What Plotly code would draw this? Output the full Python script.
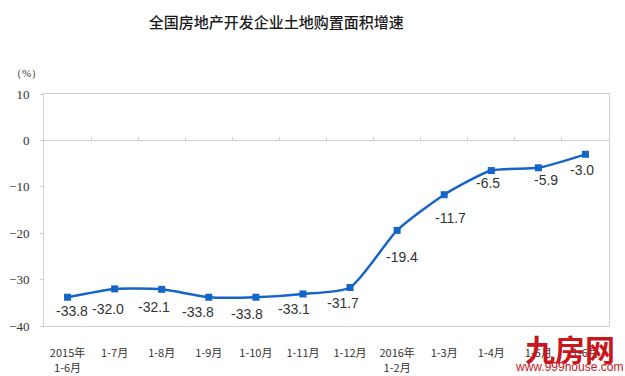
import plotly.graph_objects as go

categories = ["2015年<br>1-6月", "1-7月", "1-8月", "1-9月", "1-10月", "1-11月", "1-12月",
              "2016年<br>1-2月", "1-3月", "1-4月", "1-5月", "1-6月"]
growth = [-33.8, -32.0, -32.1, -33.8, -33.8, -33.1, -31.7, -19.4, -11.7, -6.5, -5.9, -3.0]
y_ticks = [10, 0, -10, -20, -30, -40]

# label offsets (pixels) relative to each point
label_dx = [4, -7, -8, -11, -9, -9, -7, 5, 6, -3, 8, -3]
label_dy = [14, 20, 18, 15, 17, 15, 16, 27, 23, 12, 12, 16]

BLUE = "#1565C8"

fig = go.Figure()
fig.add_trace(go.Scatter(
    x=categories, y=growth, mode="lines+markers",
    line=dict(color=BLUE, width=2.5, shape="spline", smoothing=0.6),
    marker=dict(symbol="square", size=7, color=BLUE),
    showlegend=False, hoverinfo="skip",
))
# invisible trace on the zero-line axis so it renders
fig.add_trace(go.Scatter(x=categories, y=[None] * len(categories), xaxis="x2",
                         showlegend=False, hoverinfo="skip"))

for c, v, dx, dy in zip(categories, growth, label_dx, label_dy):
    fig.add_annotation(x=c, y=v, text=f"{v:.1f}", showarrow=False,
                       xshift=dx, yshift=-dy,
                       font=dict(family="Liberation Sans, Arial", size=14, color="#333333"))

fig.add_annotation(xref="paper", yref="paper", x=-0.062, y=1.09, xanchor="left", yanchor="middle",
                   text="（%）", showarrow=False,
                   font=dict(family="Liberation Serif, serif", size=11, color="#333333"))

# watermark
fig.add_annotation(xref="paper", yref="paper", x=0.931, y=-0.095, xanchor="center", yanchor="middle",
                   text="<b>九房网</b>", showarrow=False,
                   font=dict(family="Noto Sans CJK SC", size=30, color="#C8161D"))
fig.add_annotation(xref="paper", yref="paper", x=0.93, y=-0.177, xanchor="center", yanchor="middle",
                   text="www.999house.com", showarrow=False,
                   font=dict(family="Liberation Sans, Arial", size=12, color="#C8161D"))

fig.update_layout(
    width=625, height=376,
    margin=dict(l=44, r=16, t=94, b=50),
    paper_bgcolor="white", plot_bgcolor="white",
    title=dict(text="全国房地产开发企业土地购置面积增速", x=0.442, xanchor="center",
               y=0.94, yanchor="middle",
               font=dict(family="Noto Sans CJK SC", size=15, color="#1a1a1a", weight=500)),
    xaxis=dict(type="category", range=[-0.5, 11.5], showgrid=False, zeroline=False,
               showline=True, linecolor="#d0d0d0", linewidth=1, mirror=True, automargin=False,
               ticks="", tickfont=dict(family="Noto Sans CJK SC", size=11, color="#333333"),
               ticklabelstandoff=17),
    xaxis2=dict(type="category", range=[-0.5, 11.5], overlaying="x", anchor="free",
                position=0.8, side="bottom", showgrid=False, zeroline=False, automargin=False,
                showline=True, linecolor="#cfcfcf", linewidth=1,
                ticks="inside", ticklen=3, tickcolor="#cfcfcf", tickson="boundaries",
                showticklabels=False),
    yaxis=dict(range=[-40, 10], tickvals=y_ticks, showgrid=False, zeroline=False, automargin=False,
               showline=True, linecolor="#d0d0d0", linewidth=1, mirror=True,
               ticks="outside", ticklen=3, tickcolor="#d0d0d0",
               tickfont=dict(family="Liberation Serif, serif", size=13, color="#333333"),
               ticklabelstandoff=8),
)

fig.write_html("out.html", config={"displayModeBar": False},
               post_script="document.body.style.margin='0';document.body.style.overflow='hidden';")
